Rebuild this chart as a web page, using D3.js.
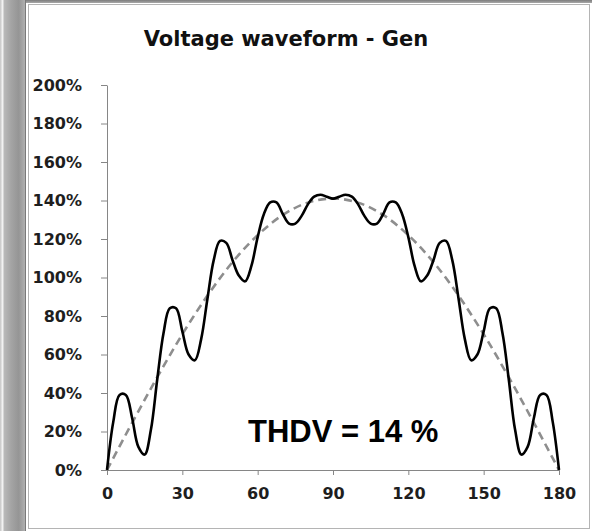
<!DOCTYPE html>
<html>
<head>
<meta charset="utf-8">
<script src="https://cdn.jsdelivr.net/npm/d3@7"></script>
<style>
  html, body { margin: 0; padding: 0; background: #fff; }
  svg { display: block; }
</style>
</head>
<body>
<svg id="chart" width="592" height="531"></svg>
<script>
// ---- data ----
const title = "Voltage waveform - Gen";
const annotation = "THDV = 14 %";
const xTicks = [0, 30, 60, 90, 120, 150, 180];
const yTicks = [0, 20, 40, 60, 80, 100, 120, 140, 160, 180, 200];

// distorted generator voltage (solid black), % at 2.5 degree steps
const genAngles = [0,2.5,5,7.5,10,12.5,15,17.5,20,22.5,25,27.5,30,32.5,35,37.5,40,42.5,45,47.5,50,52.5,55,57.5,60,62.5,65,67.5,70,72.5,75,77.5,80,82.5,85,87.5,90,
  92.5,95,97.5,100,102.5,105,107.5,110,112.5,115,117.5,120,122.5,125,127.5,130,132.5,135,137.5,140,142.5,145,147.5,150,152.5,155,157.5,160,162.5,165,167.5,170,172.5,175,177.5,180];
const genValues = [0,25,39,39,27,12,8,21,47,71,84,84,72,60,57,68,89,109,119,118,109,101,98,106,121,133,139,139,133,128,128,132,138,142,143,142,141,
  142,143,142,138,132,128,128,133,139,139,133,121,106,98,101,109,118,119,109,89,68,57,60,72,84,84,71,47,21,8,12,27,39,39,25,0];

// ideal sine (dashed grey), % at 10 degree steps
const sineAngles = [0,10,20,30,40,50,60,70,80,90,100,110,120,130,140,150,160,170,180];
const sineValues = [0,24.5,48.2,70.5,90.6,108,122,132.5,138.9,141,138.9,132.5,122,108,90.6,70.5,48.2,24.5,0];

// ---- drawing ----
const svg = d3.select("#chart");
const W = 592, H = 531;

// outer frame (screenshot-like surroundings)
const defs = svg.append("defs");
const lg = defs.append("linearGradient").attr("id", "strip").attr("x1", 0).attr("x2", 1).attr("y1", 0).attr("y2", 0);
[[0, "#c4c4c4"], [0.1, "#f2f2f2"], [0.18, "#b8b8b8"], [0.45, "#a4a4a4"], [0.75, "#959595"], [1, "#b0b0b0"]]
  .forEach(([o, c]) => lg.append("stop").attr("offset", o).attr("stop-color", c));
const tg = defs.append("linearGradient").attr("id", "topband").attr("x1", 0).attr("x2", 0).attr("y1", 0).attr("y2", 1);
[[0, "#7c7c7c"], [1, "#a8a8a8"]].forEach(([o, c]) => tg.append("stop").attr("offset", o).attr("stop-color", c));

svg.append("rect").attr("x", 0).attr("y", 0).attr("width", W).attr("height", H).attr("fill", "#ffffff");
svg.append("rect").attr("x", 0).attr("y", 0).attr("width", 25).attr("height", H).attr("fill", "url(#strip)");
svg.append("rect").attr("x", 25).attr("y", 0).attr("width", W - 25).attr("height", 3).attr("fill", "url(#topband)");
// panel borders
svg.append("line").attr("x1", 25.5).attr("x2", 25.5).attr("y1", 0).attr("y2", H).attr("stroke", "#7a7a7a");
svg.append("rect").attr("x", 28.5).attr("y", 4.5).attr("width", 561).attr("height", 524)
  .attr("fill", "#ffffff").attr("stroke", "#b4b4b4").attr("stroke-width", 1);

const x = d3.scaleLinear().domain([0, 180]).range([107, 559]);
const y = d3.scaleLinear().domain([0, 200]).range([470, 85]);

const axisColor = "#868686";
const tickFont = "'DejaVu Sans', sans-serif";

// y axis
const yAxis = svg.append("g").attr("transform", `translate(${x(0)},0)`)
  .call(d3.axisLeft(y).tickValues(yTicks).tickSize(6).tickSizeOuter(0).tickPadding(19).tickFormat(d => d + "%"));
yAxis.select(".domain").attr("stroke", axisColor);
yAxis.selectAll(".tick line").attr("stroke", axisColor);
yAxis.selectAll(".tick text").attr("fill", "#1e1e1e").style("font-family", tickFont)
  .style("font-weight", "bold").style("font-size", "16px");

// x axis
const xAxis = svg.append("g").attr("transform", `translate(0,${y(0)})`)
  .call(d3.axisBottom(x).tickValues(xTicks).tickSize(5).tickSizeOuter(0).tickPadding(13));
xAxis.select(".domain").attr("stroke", axisColor);
xAxis.selectAll(".tick line").attr("stroke", axisColor);
xAxis.selectAll(".tick text").attr("fill", "#1e1e1e").style("font-family", tickFont)
  .style("font-weight", "bold").style("font-size", "16px");

// lines
const sineData = sineAngles.map((a, i) => [a, sineValues[i]]);
const genData = genAngles.map((a, i) => [a, genValues[i]]);

svg.append("path").datum(sineData)
  .attr("fill", "none").attr("stroke", "#8e8e8e").attr("stroke-width", 2.6)
  .attr("stroke-dasharray", "8,5")
  .attr("d", d3.line().x(d => x(d[0])).y(d => y(d[1])).curve(d3.curveCatmullRom));

svg.append("path").datum(genData)
  .attr("fill", "none").attr("stroke", "#000000").attr("stroke-width", 2.6)
  .attr("stroke-linejoin", "round")
  .attr("d", d3.line().x(d => x(d[0])).y(d => y(d[1])).curve(d3.curveCatmullRom.alpha(0.5)));

// title
svg.append("text").attr("x", 286).attr("y", 46).attr("text-anchor", "middle")
  .style("font-family", tickFont).style("font-weight", "bold").style("font-size", "21px")
  .attr("fill", "#111").text(title);

// annotation
svg.append("text").attr("x", 248).attr("y", 442)
  .style("font-family", "'Liberation Sans', Arial, sans-serif").style("font-weight", "bold").style("font-size", "31px")
  .attr("fill", "#000").text(annotation);
</script>
</body>
</html>
